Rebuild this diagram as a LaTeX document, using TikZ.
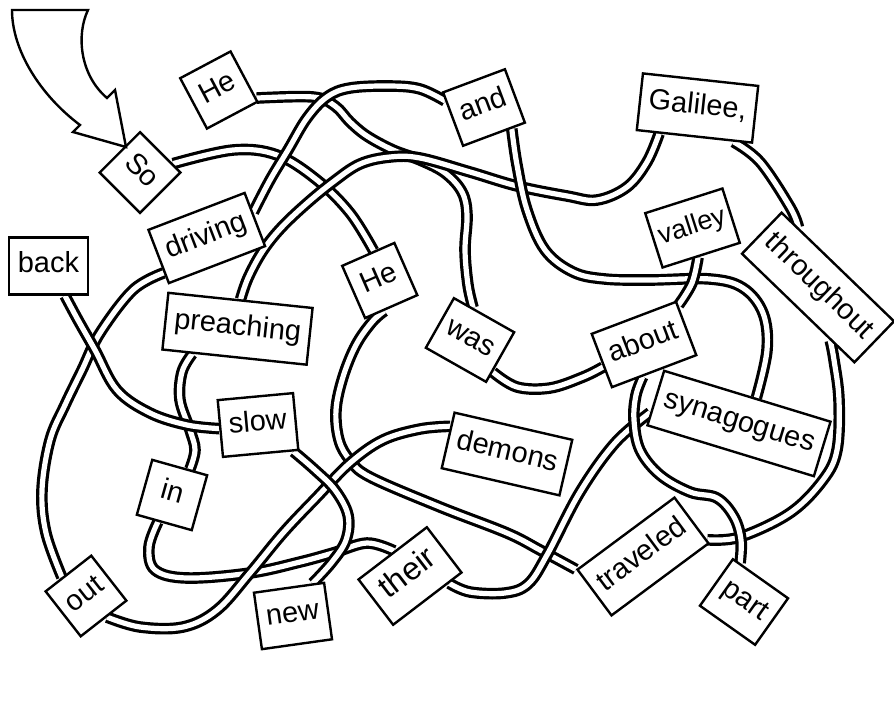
\documentclass[tikz,border=0pt]{standalone}
\usepackage{fontspec}
\setmainfont{Liberation Sans}
\usetikzlibrary{backgrounds}

\tikzset{
  word/.style={draw, line width=1.2pt, fill=white, inner xsep=4.4pt, inner ysep=0pt,
    minimum width=28.5pt, minimum height=28.5pt, text height=0.72em, text depth=0.12em,
    font=\fontsize{14.5}{16}\selectfont},
  tube/.style={line width=1.6pt, double=white, double distance=2.6pt},
  bigarrow/.style={line width=1.2pt, fill=white, line join=miter},
}
% one tube of the maze, kept in its own group so crossings stay see-through
\newcommand{\tube}[1]{%
  \begin{scope}[transparency group]
    \draw[tube] plot[smooth, tension=0.6] coordinates {#1};
  \end{scope}}

\begin{document}
\begin{tikzpicture}[x=0.5pt, y=-0.5pt]
\useasboundingbox (0,0) rectangle (894,702);

% words
\node[word, rotate=-45] (so) at (140,172.5) {So};
\node[word, rotate=28] (he1) at (218.75,90) {He};
\node[word, rotate=20.5] (and) at (484,107.5) {and};
\node[word, rotate=-6.2] (galilee) at (697.5,108) {Galilee,};
\node[word, rotate=-44] (throughout) at (818,287.5) {throughout};
\node[word, rotate=17.7, inner xsep=3pt, font=\fontsize{13.5}{15}\selectfont] (valley) at (692.5,228) {valley};
\node[word] (back) at (48.5,266) {back};
\node[word, rotate=21] (driving) at (206.75,238) {driving};
\node[word, rotate=23.7] (he2) at (379.75,280.5) {He};
\node[word, rotate=-6] (preaching) at (237.5,328.75) {preaching};
\node[word, rotate=5.3] (slow) at (258,425) {slow};
\node[word, rotate=-15.7] (in) at (172,495) {in};
\node[word, rotate=-29.5] (was) at (470,340) {was};
\node[word, rotate=20.8] (about) at (644,344.5) {about};
\node[word, rotate=-17] (synagogues) at (739,423.5) {synagogues};
\node[word, rotate=-13] (demons) at (507,454) {demons};
\node[word, rotate=38] (out) at (86,596) {out};
\node[word, rotate=8] (new) at (293,616) {new};
\node[word, rotate=37.4, minimum width=43pt, font=\fontsize{16}{18}\selectfont] (their) at (410,576) {their};
\node[word, rotate=36.6] (traveled) at (643,556.5) {traveled};
\node[word, rotate=-35.3] (part) at (744,602) {part};

% start arrow
\draw[bigarrow] (12,10) -- (88,10) .. controls (76,35) and (80,75) .. (107,98)
  -- (115,90) -- (126,147) -- (73,132) -- (80,125)
  .. controls (40,95) and (12,50) .. cycle;

% tubes
\begin{scope}[on background layer, blend mode=multiply]
\tube{(so.60) (233,150) (277,155) (317,180) (350,213) (he2.78)}
\tube{(he1.-40) (313,97) (335,106) (350,122) (367,136) (393,150) (420,160) (445,173) (462,192) (467,215) (465,250) (468,285) (was.114)}
\tube{(he2.-105) (372,322) (356,345) (343,377) (336,410) (339,440) (350,460) (370,477) (440,507) (507,533) (540,550) (traveled.north west)}
\tube{(traveled.-22) (740,537) (790,513) (823,480) (837,450) (839,400) (834,360) (throughout.-33)}
\tube{(throughout.152) (790,207) (760,162) (galilee.-37)}
\tube{(galilee.-140) (647,162) (627,187) (597,200) (567,196) (517,186) (470,172) (420,158) (390,157) (360,164) (333,182) (305,205) (280,229) (262,252) (248,278) (preaching.90)}
\tube{(preaching.-145) (182,372) (180,400) (190,430) (195,450) (in.71)}
\tube{(in.-102) (149,547) (155,570) (187,578) (250,573) (300,562) (333,553) (367,543) (their.85)}
\tube{(their.-48) (470,592) (505,593) (528,584) (547,555) (580,492) (615,443) (synagogues.190)}
\tube{(synagogues.73) (767,350) (763,313) (743,288) (710,279) (650,280) (605,279) (573,272) (545,250) (527,210) (517,165) (and.-58)}
\tube{(and.150) (420,89) (390,86) (350,88) (327,97) (307,118) (288,150) (270,180) (driving.8)}
\tube{(driving.-162) (133,290) (100,333) (82,370) (65,405) (50,440) (42,490) (46,533) (out.104)}
\tube{(out.-83) (140,627) (183,627) (217,610) (250,573) (283,533) (317,497) (350,463) (383,440) (420,429) (demons.167)}
\tube{(back.-61) (78,320) (95,350) (117,390) (150,413) (187,425) (slow.west)}
\tube{(slow.-42) (315,470) (335,490) (348,515) (346,540) (332,562) (new.51)}
\tube{(was.-25) (517,387) (550,388) (583,377) (about.-172)}
\tube{(about.-113) (636,395) (634,420) (640,450) (660,475) (690,492) (717,498) (734,517) (741,540) (part.131)}
\tube{(valley.-97) (692,283) (about.28)}
\end{scope}
\end{tikzpicture}
\end{document}
